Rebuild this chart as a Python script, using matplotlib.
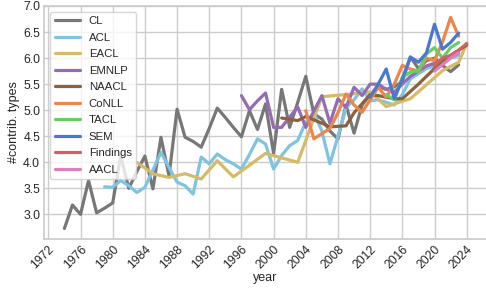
import matplotlib
matplotlib.use("Agg")
import matplotlib.pyplot as plt
import seaborn as sns

sns.set_theme(style="whitegrid")
plt.rcParams['font.family'] = ['Liberation Sans', 'DejaVu Sans']

# ---- data ----
cl_years = list(range(1974, 2024))
cl_vals = [2.73, 3.18, 3.00, 3.65, 3.03, 3.12, 3.22, 4.12, 3.50, 3.82,
           4.12, 3.49, 4.48, 3.74, 5.02, 4.48, 4.40, 4.29, 4.65, 5.04,
           4.86, 4.67, 4.49, 4.99, 4.63, 5.12, 4.17, 5.40, 4.67, 5.15,
           5.65, 4.93, 4.83, 4.60, 4.45, 5.10, 4.56, 5.10, 5.30, 5.45,
           5.40, 5.45, 5.55, 6.02, 5.80, 5.95, 6.00, 5.86, 5.74, 5.87]

acl_years = list(range(1979, 2024))
acl_vals = [3.53, 3.52, 3.65, 3.55, 3.42, 3.52, 3.85, 4.19, 3.90, 3.62,
            3.55, 3.39, 4.10, 3.97, 4.16, 4.05, 3.97, 3.87, 4.15, 4.45,
            4.35, 3.87, 4.13, 4.32, 4.42, 4.77, 4.95, 4.60, 3.97, 4.50,
            5.05, 5.20, 5.41, 5.18, 5.20, 5.15, 5.10, 5.30, 5.60, 5.70,
            5.80, 5.85, 5.90, 6.00, 6.05]

eacl_years = [1983, 1985, 1987, 1989, 1991, 1993, 1995, 1999, 2003, 2006,
              2009, 2012, 2014, 2017, 2021, 2023, 2024]
eacl_vals = [4.00, 3.78, 3.71, 3.78, 3.68, 4.03, 3.72, 4.17, 4.00, 5.26,
             5.30, 5.35, 5.07, 5.22, 5.76, 5.92, 6.28]

emnlp_years = list(range(1996, 2024))
emnlp_vals = [5.28, 5.01, 5.18, 5.33, 4.67, 4.67, 4.87, 5.06, 4.67, 4.98,
              5.28, 4.75, 5.22, 5.05, 5.44, 5.28, 5.50, 5.50, 5.40, 5.35,
              5.50, 5.65, 5.75, 5.85, 5.90, 5.95, 6.05, 6.10]

naacl_years = [2001, 2003, 2004, 2006, 2007, 2009, 2010, 2012, 2013, 2015,
               2016, 2018, 2019, 2021, 2022, 2024]
naacl_vals = [4.85, 4.80, 4.88, 4.75, 4.68, 4.70, 4.95, 5.30, 5.28, 5.22,
              5.22, 5.50, 5.65, 5.95, 6.05, 6.25]

conll_years = list(range(2004, 2024))
conll_vals = [4.99, 4.45, 4.55, 4.65, 4.95, 5.31, 5.10, 4.96, 5.20, 5.44,
              5.25, 5.50, 5.86, 5.79, 5.75, 6.00, 5.95, 6.31, 6.78, 6.42]

tacl_years = list(range(2014, 2024))
tacl_vals = [5.30, 5.20, 5.63, 5.73, 5.75, 6.08, 6.20, 6.00, 6.20, 6.30]

sem_years = list(range(2012, 2024))
sem_vals = [5.25, 5.50, 5.79, 5.22, 5.60, 6.02, 5.92, 6.10, 6.65, 6.17,
            6.30, 6.48]

findings_years = [2020, 2021, 2022, 2023, 2024]
findings_vals = [5.85, 6.00, 6.05, 6.15, 6.28]

aacl_years = [2020, 2022, 2023]
aacl_vals = [5.75, 6.00, 6.10]

series = [
    ("CL", cl_years, cl_vals, "#777777"),
    ("ACL", acl_years, acl_vals, "#7ec4e2"),
    ("EACL", eacl_years, eacl_vals, "#d5bb67"),
    ("EMNLP", emnlp_years, emnlp_vals, "#956cb4"),
    ("NAACL", naacl_years, naacl_vals, "#8c613c"),
    ("CoNLL", conll_years, conll_vals, "#ee854a"),
    ("TACL", tacl_years, tacl_vals, "#6acc64"),
    ("SEM", sem_years, sem_vals, "#4878d0"),
    ("Findings", findings_years, findings_vals, "#d65f5f"),
    ("AACL", aacl_years, aacl_vals, "#dc7ec0"),
]

xticks = list(range(1972, 2025, 4))

fig = plt.figure(figsize=(4.86, 2.89), dpi=100)
ax = fig.add_axes([44.3 / 486, 50 / 289, 442.5 / 486, 233 / 289])
for name, yrs, vals, col in series:
    ax.plot(yrs, vals, color=col, lw=2.3, label=name)

ax.set_xticks(xticks)
ax.set_xticklabels([str(t) for t in xticks], rotation=45, ha="right",
                   rotation_mode="anchor")
ax.set_yticks([3.0, 3.5, 4.0, 4.5, 5.0, 5.5, 6.0, 6.5, 7.0])
ax.tick_params(labelsize=8.8, length=0, pad=3)
ax.set_xlabel("year", fontsize=9.0, labelpad=1)
ax.set_ylabel("#contrib. types", fontsize=9.0, labelpad=2)
leg = ax.legend(loc="upper left", fontsize=8.2, handlelength=2.2,
                labelspacing=0.57, frameon=True)

fig.savefig("out.png", dpi=100)
